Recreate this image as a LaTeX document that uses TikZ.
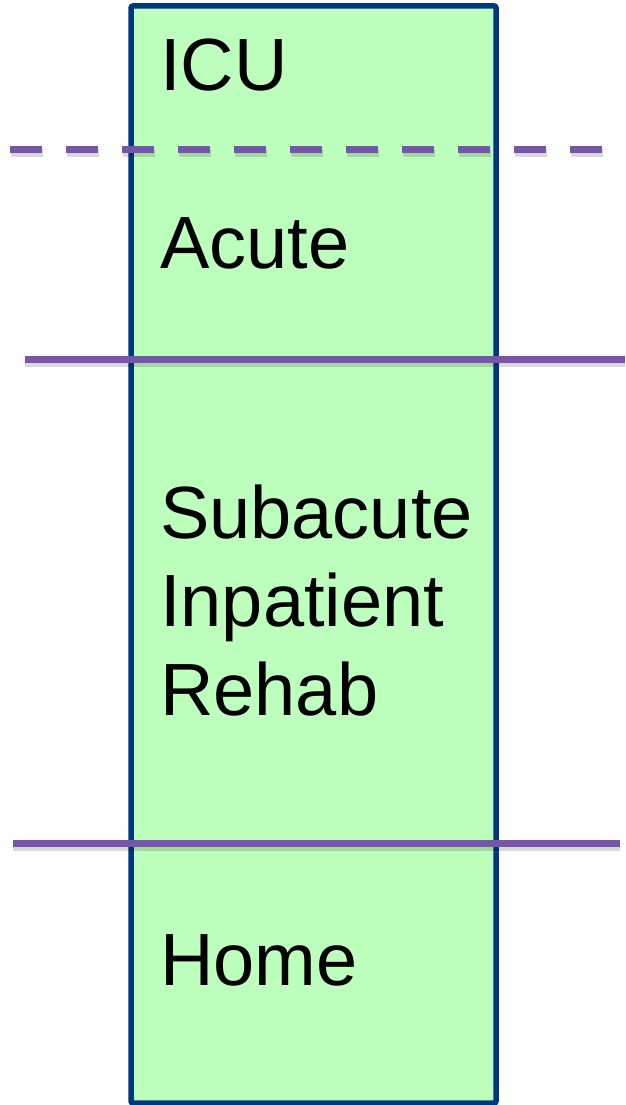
\documentclass[tikz,border=0pt]{standalone}
\usepackage{fontspec}
\setmainfont{Liberation Sans}
\usepackage{tikz}
\usetikzlibrary{positioning}
\definecolor{kastengruen}{RGB}{189,255,189}
\definecolor{kastenrand}{RGB}{0,56,128}
\definecolor{grenzlila}{RGB}{120,84,172}
\tikzset{
	phase/.style={anchor=base west, inner sep=0pt, font=\fontsize{74}{88.5}\selectfont, align=left},
	grenze/.style={line width=7pt, color=grenzlila},
	schatten/.style={line width=8pt, color=black, opacity=.15}
}

\begin{document}
\begin{tikzpicture}[x=1pt, y=-1pt]
	\useasboundingbox (0,0) rectangle (625,1105);
	%Kasten
	\draw[line width=5.5pt, draw=kastenrand, fill=kastengruen, rounded corners=2pt] (131,6) rectangle (496,1103);
	%Phasen
	\node[phase] (icu) at (160,91) {ICU};
	\node[phase] (akut) at (160,268) {Acute};
	\node[phase] (subakut) at (160,715) {Subacute\\Inpatient\\Rehab};%base = letzte Zeile
	\node[phase] (heim) at (160,985) {Home};
	%Schatten der Linien
	\draw[schatten, dash pattern=on 32pt off 24pt] (11,153) -- (605,153);
	\draw[schatten] (25,363) -- (625,363);
	\draw[schatten] (13,847) -- (620,847);
	%Grenzen
	\draw[grenze, dash pattern=on 32pt off 24pt] (10,149) -- (605,149);%ICU / Acute
	\draw[grenze] (25,359) -- (625,359);%Acute / Subacute
	\draw[grenze] (13,843) -- (620,843);%Subacute / Home
\end{tikzpicture}
\end{document}
